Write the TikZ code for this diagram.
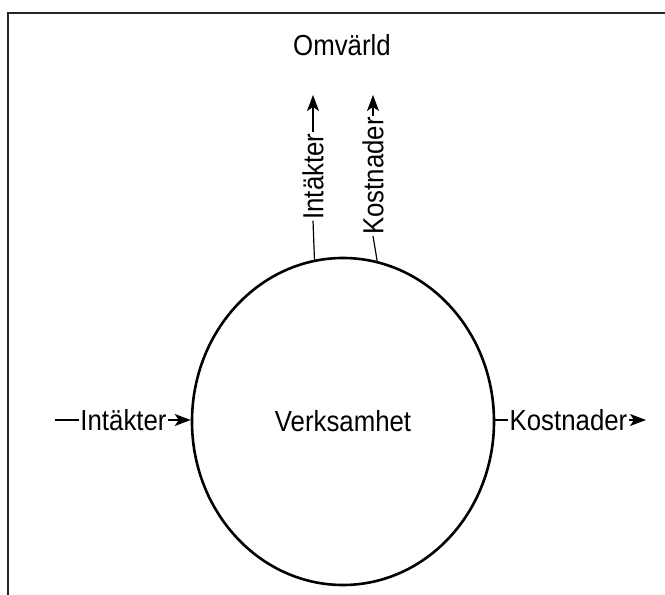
\documentclass[tikz,border=0pt]{standalone}
\usepackage{fontspec}
\setmainfont[FakeStretch=0.89]{Liberation Sans}
\usetikzlibrary{shapes.geometric,arrows.meta}
\begin{document}
\begin{tikzpicture}[x=1pt, y=1pt, font=\fontsize{29}{34}\selectfont,
  flow/.style={line width=1.2pt},
  tip/.style={flow, -{Stealth[length=16pt, width=12pt, inset=4pt]}},
  lbl/.style={inner sep=1pt}]
\useasboundingbox (0,0) rectangle (665,595);
\draw[line width=1.6pt, black!85] (8,0) -- (8,582) -- (665,582);
\node (omv) at (342,550) {Omvärld};
\node[ellipse, draw, line width=2.6pt, minimum width=302, minimum height=327, inner sep=0pt] (verk) at (343,173.5) {Verksamhet};
% in- och utflöden sidled
\coordinate (vin) at (55,175);
\coordinate (hut) at (646,175);
\node[lbl] (intv) at (123.5,175) {Intäkter};
\node[lbl] (kosth) at (568.5,175) {Kostnader};
\draw[flow] (vin) -- (intv);
\draw[tip] (intv) -- (verk.west |- intv);
\draw[flow] (verk.east |- kosth) -- (kosth);
\draw[tip] (kosth) -- (hut);
% mot omvärlden
\coordinate (iup) at (313,500);
\coordinate (kup) at (373,500);
\node[lbl, rotate=90] (intu) at (313,418.5) {Intäkter};
\node[lbl, rotate=90] (kostu) at (373,419) {Kostnader};
\draw[flow] (verk.100.5) -- (intu.west);
\draw[tip] (intu.east) -- (iup);
\draw[flow] (verk.78.8) -- (kostu.west);
\draw[tip] (kostu.east) -- (kup);
\end{tikzpicture}
\end{document}
